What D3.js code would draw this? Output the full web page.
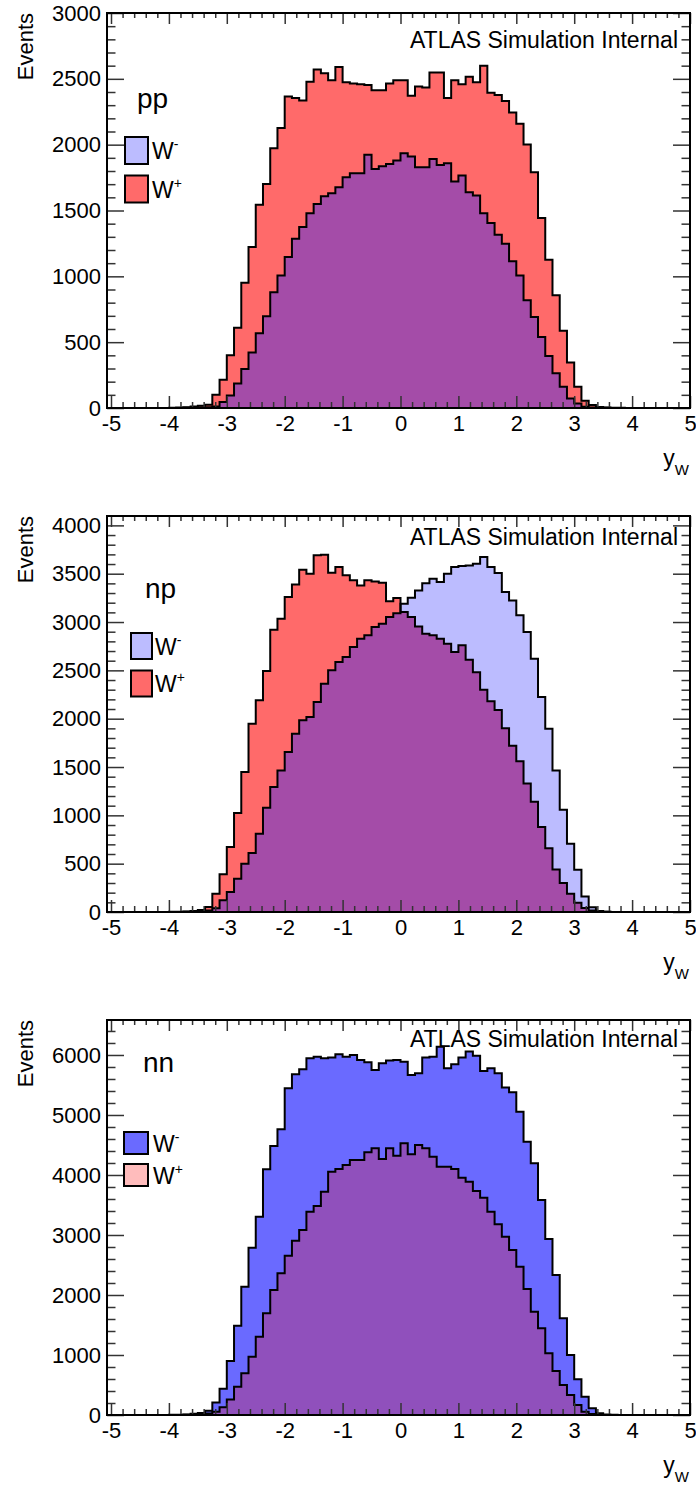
<!DOCTYPE html>
<html>
<head>
<meta charset="utf-8">
<script src="https://cdn.jsdelivr.net/npm/d3@7"></script>
<style>
  body { margin: 0; background: #fff; }
  svg text { font-family: "Liberation Sans", Arial, Helvetica, sans-serif; fill: #000; }
</style>
</head>
<body>
<svg id="chart" width="696" height="1488"></svg>
<script>
// y_W histograms, bins of 0.125 starting at y_W = -4 (64 bins up to +4)
const binStart = -4;
const binWidth = 0.125;

const ppWplus = [
  2, 3, 5, 12, 18, 25, 100, 215, 400, 610,
  952, 1222, 1543, 1702, 1972, 2126, 2365, 2355, 2335, 2478,
  2570, 2542, 2490, 2590, 2475, 2464, 2459, 2454, 2414, 2414,
  2464, 2490, 2490, 2371, 2442, 2434, 2548, 2548, 2354, 2490,
  2458, 2516, 2475, 2600, 2395, 2378, 2332, 2245, 2158, 2002,
  1790, 1443, 1126, 856, 586, 346, 162, 56, 23, 8,
  4, 2, 1, 0
];
const ppWminus = [
  0, 0, 1, 2, 4, 6, 12, 45, 94, 187,
  296, 422, 567, 697, 879, 1007, 1146, 1285, 1374, 1480,
  1550, 1608, 1631, 1677, 1752, 1783, 1783, 1924, 1815, 1836,
  1853, 1879, 1934, 1911, 1828, 1828, 1891, 1846, 1858, 1720,
  1765, 1639, 1613, 1480, 1406, 1316, 1247, 1114, 1007, 818,
  692, 540, 394, 263, 162, 73, 35, 10, 4, 2,
  1, 0, 0, 0
];
const npWplus = [
  2, 3, 5, 10, 20, 52, 190, 390, 672, 1024,
  1448, 1948, 2190, 2493, 2920, 3034, 3258, 3389, 3541, 3500,
  3690, 3696, 3510, 3569, 3483, 3431, 3379, 3431, 3420, 3407,
  3214, 3248, 3103, 3051, 2955, 2879, 2862, 2827, 2775, 2690,
  2760, 2610, 2480, 2300, 2180, 2090, 1900, 1720, 1560, 1330,
  1140, 880, 660, 440, 300, 190, 95, 42, 15, 5,
  2, 1, 0, 0
];
const npWminus = [
  0, 1, 2, 4, 8, 15, 40, 121, 207, 345,
  500, 610, 810, 1079, 1293, 1465, 1655, 1845, 1983, 2017,
  2172, 2362, 2500, 2586, 2638, 2741, 2827, 2862, 2948, 2983,
  3051, 3090, 3189, 3250, 3327, 3400, 3448, 3414, 3500, 3569,
  3579, 3586, 3603, 3672, 3569, 3507, 3310, 3224, 3069, 2896,
  2620, 2224, 1896, 1465, 1059, 707, 438, 160, 50, 10,
  3, 1, 0, 0
];
const nnWminus = [
  3, 5, 10, 20, 35, 70, 208, 438, 899, 1489,
  2139, 2789, 3306, 4095, 4484, 4761, 5445, 5678, 5762, 5945,
  5972, 5945, 5956, 6011, 5972, 6000, 5917, 5878, 5750, 5861,
  5906, 5917, 5889, 5667, 5695, 5956, 5972, 6139, 5778, 5845,
  5956, 6056, 5989, 5734, 5778, 5695, 5456, 5378, 5056, 4556,
  4195, 3584, 2934, 2334, 1611, 1000, 594, 306, 111, 28,
  8, 3, 1, 0
];
const nnWplus = [
  1, 2, 3, 6, 12, 25, 56, 129, 260, 472,
  694, 972, 1306, 1694, 2083, 2361, 2656, 2906, 3084, 3389,
  3484, 3722, 4056, 4100, 4167, 4250, 4250, 4378, 4445, 4267,
  4445, 4322, 4528, 4345, 4500, 4445, 4306, 4139, 4139, 4100,
  3956, 3889, 3734, 3622, 3389, 3178, 2972, 2750, 2472, 2100,
  1722, 1444, 1028, 733, 500, 333, 167, 56, 15, 4,
  1, 0, 0, 0
];

const xMajorTicks = [-5, -4, -3, -2, -1, 0, 1, 2, 3, 4, 5];
const seriesNames = ['W', 'W'];
const seriesCharges = ['-', '+'];
const panelLabels = ['pp', 'np', 'nn'];
const ppYTicks = [0, 500, 1000, 1500, 2000, 2500, 3000];
const npYTicks = [0, 500, 1000, 1500, 2000, 2500, 3000, 3500, 4000];
const nnYTicks = [0, 1000, 2000, 3000, 4000, 5000, 6000];
const atlasText = 'ATLAS Simulation Internal';

const FRAME_L = 107;
const FRAME_R = 690;

// flat stand-ins for the ROOT hatch fills (dense, light, and where both overlap)
const colors = {
  redDense: '#ff6a6a',
  redLight: '#ffbcbc',
  blueDense: '#6a6aff',
  blueLight: '#bcbcff',
  overlapRed: '#a44ca8',
  overlapBlue: '#9050bc'
};

// layout per pad (ROOT style frames stacked vertically)
const panels = [
  { label: panelLabels[0], top: 13, bottom: 408, yMax: 3000, ticks: ppYTicks, minor: 100,
    minus: ppWminus, plus: ppWplus, dense: 'plus',
    atlasY: 47.5, labelX: 137, labelY: 108,
    legend: { x: 125, y: 137, w: 23, h: 27, gap: 38.5, textX: 152 } },
  { label: panelLabels[1], top: 516, bottom: 912, yMax: 4097, ticks: npYTicks, minor: 100,
    minus: npWminus, plus: npWplus, dense: 'plus',
    atlasY: 545, labelX: 145, labelY: 598,
    legend: { x: 131, y: 633, w: 21, h: 26, gap: 37.5, textX: 155 } },
  { label: panelLabels[2], top: 1020, bottom: 1415, yMax: 6583, ticks: nnYTicks, minor: 200,
    minus: nnWminus, plus: nnWplus, dense: 'minus',
    atlasY: 1046.5, labelX: 143, labelY: 1071.5,
    legend: { x: 124, y: 1132, w: 24, h: 22, gap: 32, textX: 153 } }
];

const svg = d3.select('#chart');

const x = d3.scaleLinear().domain([-5, 5]).range([111, FRAME_R]);

function histPoints(values) {
  const pts = [[-5, 0]];
  values.forEach((v, i) => pts.push([binStart + i * binWidth, v]));
  pts.push([binStart + values.length * binWidth, 0]);
  pts.push([5, 0]);
  return pts;
}

function drawPanel(p) {
  const y = d3.scaleLinear().domain([0, p.yMax]).range([p.bottom, p.top]);
  const g = svg.append('g').attr('class', 'panel-' + p.label);

  const area = d3.area()
    .curve(d3.curveStepAfter)
    .x(d => x(d[0]))
    .y0(y(0))
    .y1(d => y(d[1]));
  const line = d3.line()
    .curve(d3.curveStepAfter)
    .x(d => x(d[0]))
    .y(d => y(d[1]));

  const plusDense = p.dense === 'plus';
  const minusColor = plusDense ? colors.blueLight : colors.blueDense;
  const plusColor = plusDense ? colors.redDense : colors.redLight;
  const overlapColor = plusDense ? colors.overlapRed : colors.overlapBlue;
  const both = p.plus.map((v, i) => Math.min(v, p.minus[i]));

  g.append('path').attr('d', area(histPoints(p.plus))).attr('fill', plusColor);
  g.append('path').attr('d', area(histPoints(p.minus))).attr('fill', minusColor);
  g.append('path').attr('d', area(histPoints(both))).attr('fill', overlapColor);

  [p.plus, p.minus].forEach(vals => {
    g.append('path')
      .attr('d', line(histPoints(vals)))
      .attr('fill', 'none')
      .attr('stroke', '#000')
      .attr('stroke-width', 2);
  });

  // axes, ticks on all four sides pointing inwards
  const yMinor = d3.range(0, p.yMax + 1, p.minor).filter(v => !p.ticks.includes(v));
  const xMinor = d3.range(-50, 51, 2).map(v => v / 10).filter(v => !xMajorTicks.includes(v));
  const plain = d => String(d);
  const styleAxis = sel => {
    sel.select('.domain').remove();
    sel.selectAll('line').attr('stroke', '#333').attr('stroke-width', 1.5);
    sel.attr('font-family', '"Liberation Sans", Arial, sans-serif').attr('font-size', 22);
  };

  g.append('g').attr('transform', `translate(${FRAME_L},0)`)
    .call(d3.axisLeft(y).tickValues(p.ticks).tickSize(-17).tickPadding(6).tickFormat(plain))
    .call(styleAxis);
  g.append('g').attr('transform', `translate(${FRAME_L},0)`)
    .call(d3.axisLeft(y).tickValues(yMinor).tickSize(-8.5).tickFormat(''))
    .call(styleAxis);
  g.append('g').attr('transform', `translate(${FRAME_R},0)`)
    .call(d3.axisRight(y).tickValues(p.ticks).tickSize(-17).tickFormat(''))
    .call(styleAxis);
  g.append('g').attr('transform', `translate(${FRAME_R},0)`)
    .call(d3.axisRight(y).tickValues(yMinor).tickSize(-8.5).tickFormat(''))
    .call(styleAxis);
  g.append('g').attr('transform', `translate(0,${p.bottom})`)
    .call(d3.axisBottom(x).tickValues(xMajorTicks).tickSize(-12).tickPadding(7.5).tickFormat(plain))
    .call(styleAxis);
  g.append('g').attr('transform', `translate(0,${p.bottom})`)
    .call(d3.axisBottom(x).tickValues(xMinor).tickSize(-6).tickFormat(''))
    .call(styleAxis);
  g.append('g').attr('transform', `translate(0,${p.top})`)
    .call(d3.axisTop(x).tickValues(xMajorTicks).tickSize(-11).tickFormat(''))
    .call(styleAxis);
  g.append('g').attr('transform', `translate(0,${p.top})`)
    .call(d3.axisTop(x).tickValues(xMinor).tickSize(-5).tickFormat(''))
    .call(styleAxis);

  g.append('rect')
    .attr('x', FRAME_L).attr('y', p.top)
    .attr('width', FRAME_R - FRAME_L).attr('height', p.bottom - p.top)
    .attr('fill', 'none').attr('stroke', '#000').attr('stroke-width', 2);

  // titles
  g.append('text')
    .attr('transform', `translate(33,${p.top}) rotate(-90)`)
    .attr('text-anchor', 'end')
    .attr('font-size', 22)
    .text('Events');

  const xt = g.append('text')
    .attr('x', 689).attr('y', p.bottom + 58)
    .attr('text-anchor', 'end')
    .attr('font-size', 23);
  xt.append('tspan').text('y');
  xt.append('tspan').attr('font-size', 15).attr('dy', 9).text('W');

  g.append('text')
    .attr('x', 678).attr('y', p.atlasY)
    .attr('text-anchor', 'end')
    .attr('font-size', 23)
    .text(atlasText);

  g.append('text')
    .attr('x', p.labelX).attr('y', p.labelY)
    .attr('font-size', 28)
    .text(p.label);

  // legend: W- then W+
  const lg = p.legend;
  [minusColor, plusColor].forEach((c, i) => {
    const by = lg.y + i * lg.gap;
    g.append('rect')
      .attr('x', lg.x).attr('y', by)
      .attr('width', lg.w).attr('height', lg.h)
      .attr('fill', c)
      .attr('stroke', '#000').attr('stroke-width', 2);
    const t = g.append('text')
      .attr('x', lg.textX).attr('y', by + lg.h / 2 + 8.5)
      .attr('font-size', 23);
    t.append('tspan').text(seriesNames[i]);
    t.append('tspan').attr('font-size', 14).attr('dy', -10).text(seriesCharges[i]);
  });
}

panels.forEach(drawPanel);
</script>
</body>
</html>
